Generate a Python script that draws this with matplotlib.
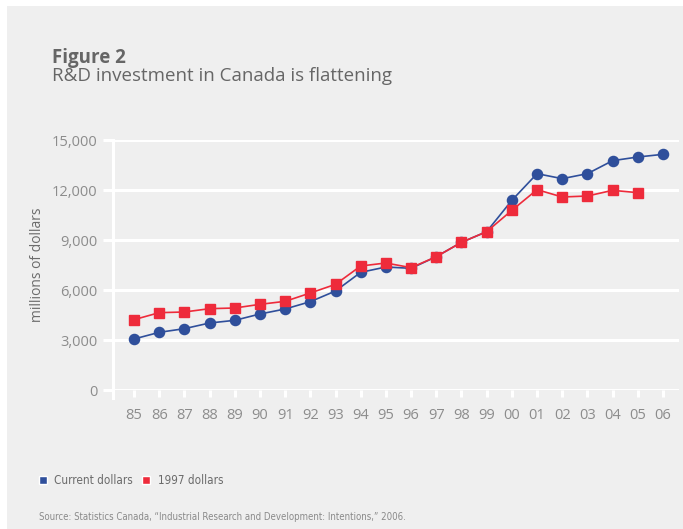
import matplotlib.pyplot as plt
from matplotlib.patches import Rectangle
from matplotlib.lines import Line2D

years = ["85", "86", "87", "88", "89", "90", "91", "92", "93", "94", "95",
         "96", "97", "98", "99", "00", "01", "02", "03", "04", "05", "06"]
current = [3060, 3460, 3680, 4020, 4180, 4560, 4860, 5300, 5940, 7060, 7380,
           7300, 8000, 8860, 9500, 11380, 12980, 12680, 12980, 13760, 13980, 14140]
real_1997 = [4220, 4640, 4680, 4880, 4920, 5140, 5320, 5820, 6340, 7440, 7620,
             7340, 8000, 8860, 9500, 10780, 12020, 11580, 11640, 11980, 11840]
y_ticks = [0, 3000, 6000, 9000, 12000, 15000]

BG = "#efefef"
BLUE = "#2f4f9b"
RED = "#ee2b3b"
TXT = "#6b6b6b"
plt.rcParams["font.family"] = ["Open Sans", "DejaVu Sans"]
NARROW = dict(family=["DejaVu Sans"], fontstretch="condensed")

W, H = 683, 529
fig = plt.figure(figsize=(W / 100, H / 100), dpi=100, facecolor="white")
fig.patches.append(Rectangle((7 / W, 0), 1, (H - 6) / H, transform=fig.transFigure,
                             facecolor=BG, edgecolor="none", zorder=-5))

ax = fig.add_axes([113 / W, (H - 390) / H, 566 / W, 250 / H])
ax.set_facecolor(BG)

x = list(range(len(years)))
ax.plot(x, current, color=BLUE, lw=1.2, marker="o", ms=7.3, mec=BLUE, zorder=3)
ax.plot(x[:len(real_1997)], real_1997, color=RED, lw=1.2, marker="s", ms=6.6,
        mec=RED, zorder=4)

scale = 529 / 21
xmin = -21 / scale
ax.set_xlim(xmin, xmin + 566 / scale)
ax.set_ylim(0, 15000)

for s in ax.spines.values():
    s.set_visible(False)
ax.yaxis.grid(True, color="white", lw=2.2)
ax.set_axisbelow(True)
ax.add_line(Line2D([0, 0], [-0.032, 1], transform=ax.transAxes, color="white",
                   lw=2.2, clip_on=False, zorder=1))

ax.set_yticks(y_ticks)
ax.set_yticklabels([f"{v:,}" for v in y_ticks])
ax.set_xticks(x)
ax.set_xticklabels(years)
ax.tick_params(axis="y", length=7, width=2.2, color="white", labelcolor="#8c8c8c",
               labelsize=10.5, pad=4)
ax.tick_params(axis="x", length=5, width=2.2, color="white", labelcolor="#8c8c8c",
               labelsize=10.5, pad=8)
ax.set_ylabel("millions of dollars", color=TXT, fontsize=10, labelpad=5)

fig.text(52 / W, 1 - 63 / H, "Figure 2", fontsize=13.5, fontweight="bold",
         color="#666666")
fig.text(52 / W, 1 - 81 / H, "R&D investment in Canada is flattening", fontsize=13.5,
         color="#666666")

# legend
fig.patches.append(Rectangle((39 / W, 1 - 484 / H), 8 / W, 8 / H, transform=fig.transFigure,
                             facecolor=BLUE, edgecolor="white", lw=1))
fig.text(54 / W, 1 - 484 / H, "Current dollars", fontsize=8.4, color=TXT, **NARROW)
fig.patches.append(Rectangle((142 / W, 1 - 484 / H), 8 / W, 8 / H, transform=fig.transFigure,
                             facecolor=RED, edgecolor="white", lw=1))
fig.text(158 / W, 1 - 484 / H, "1997 dollars", fontsize=8.4, color=TXT, **NARROW)

fig.text(39 / W, 1 - 520 / H,
         "Source: Statistics Canada, \u201cIndustrial Research and Development: Intentions,\u201d 2006.",
         fontsize=6.9, color="#8a8a8a", **NARROW)

fig.savefig("out.png", dpi=100, facecolor="white")
